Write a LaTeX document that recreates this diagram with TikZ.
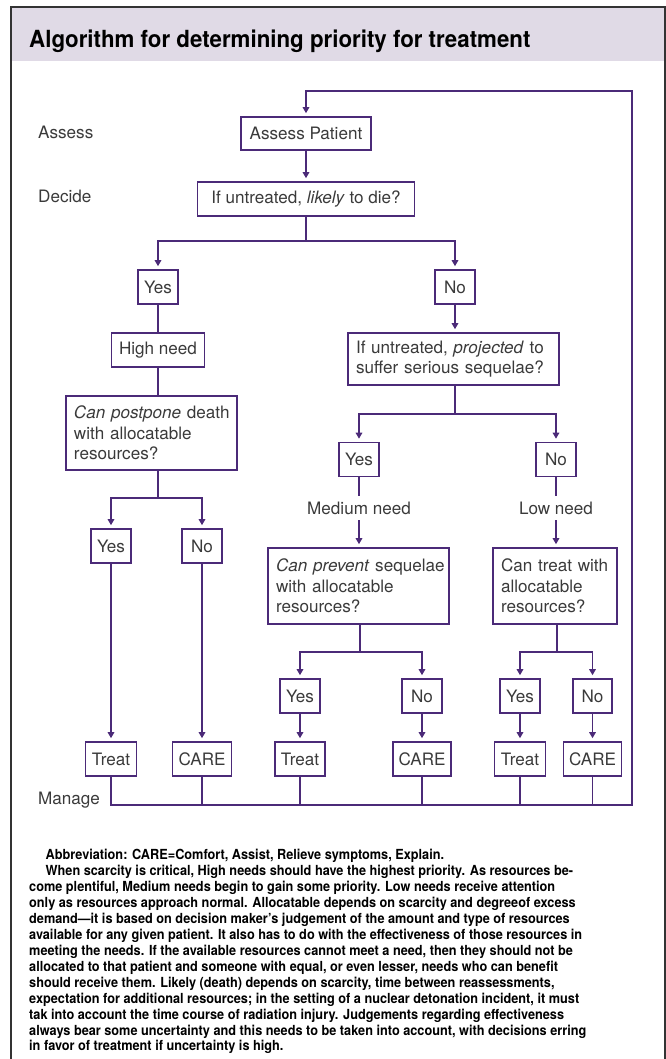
\documentclass[tikz,border=0pt]{standalone}
\usepackage{fontspec}
\setmainfont{TeX Gyre Heros}
\newfontfamily\condfont[FakeStretch=0.945]{TeX Gyre Heros}
\newfontfamily\notecond[FakeStretch=0.915]{TeX Gyre Heros}
\usetikzlibrary{arrows.meta}
\definecolor{grape}{HTML}{4B2A78}
\definecolor{ink}{HTML}{3A3A3A}
\definecolor{lilac}{HTML}{E0DAE6}
\definecolor{rim}{HTML}{333333}
\newcommand\diagfont{\fontsize{17.1bp}{20.5bp}\selectfont}
\newcommand\titlefont{\condfont\bfseries\fontsize{23.6bp}{26bp}\selectfont}
\newcommand\notefont{\notecond\bfseries\fontsize{13.9bp}{15.95bp}\selectfont}
\tikzset{
  box/.style={draw=grape, line width=1.6bp, text=ink, inner sep=0pt, font=\diagfont},
  tag/.style={box, minimum width=40bp, minimum height=34bp},
  qbox/.style={box, align=left, inner xsep=8bp},
  lbl/.style={text=ink, font=\diagfont, inner sep=5.5bp},
  link/.style={draw=grape, line width=1.6bp},
  arr/.style={link, -{Triangle[length=6bp,width=6.5bp]}, shorten >=3bp}
}
\begin{document}
\begin{tikzpicture}[x=1bp, y=-1bp]
\useasboundingbox (0,0) rectangle (666,1059);
\fill[lilac] (11,7) rectangle (665,61);
\draw[rim, line width=2bp] (11,1059) -- (11,7) -- (665,7) -- (665,1059);
\node[anchor=base west, inner sep=0pt, text=black, font=\titlefont] (title) at (29,47) {Algorithm for determining priority for treatment};

\node[lbl, anchor=base west, inner sep=0pt] (stepA) at (38,138) {Assess};
\node[lbl, anchor=base west, inner sep=0pt] (stepD) at (38,202) {Decide};
\node[lbl, anchor=base west, inner sep=0pt] (stepM) at (38,804) {Manage};

\node[box, minimum width=130bp, minimum height=33bp] (assess) at (306,133.5) {Assess Patient};
\node[box, minimum width=217bp, minimum height=34bp] (decide) at (306,199) {If untreated, \textit{likely} to die?};

\node[tag] (yesA) at (158,287) {Yes};
\node[tag] (noA) at (455,287) {No};
\node[box, minimum width=93bp, minimum height=34bp] (high) at (158,350) {High need};
\node[qbox, text width=155bp, minimum height=74bp] (postpone) at (151.5,433) {\mbox{\textit{Can postpone} death}\\\mbox{with allocatable}\\\mbox{resources?}};
\node[tag] (yesB) at (111,546) {Yes};
\node[tag] (noB) at (202,546) {No};
\node[box, minimum width=51bp, minimum height=34bp] (treatA) at (111,759) {Treat};
\node[box, minimum width=59bp, minimum height=34bp] (careA) at (202,759) {CARE};

\node[qbox, text width=195bp, minimum height=52bp] (proj) at (453.5,359) {\mbox{If untreated, \textit{projected} to}\\\mbox{suffer serious sequelae?}};
\node[tag] (yesC) at (359,459.5) {Yes};
\node[tag] (noC) at (556,459.5) {No};
\node[lbl] (medium) at (359,508) {Medium need};
\node[lbl] (low) at (556,508) {Low need};
\node[qbox, text width=165bp, minimum height=76bp] (prevent) at (358.5,586) {\mbox{\textit{Can prevent} sequelae}\\\mbox{with allocatable}\\\mbox{resources?}};
\node[qbox, text width=108bp, minimum height=76bp] (cantreat) at (555,586) {\mbox{Can treat with}\\\mbox{allocatable}\\\mbox{resources?}};
\node[tag] (yesD) at (300,696) {Yes};
\node[tag] (noD) at (422,696) {No};
\node[tag] (yesE) at (520,696) {Yes};
\node[tag, minimum width=39bp] (noE) at (592.5,696) {No};
\node[box, minimum width=50bp, minimum height=34bp] (treatB) at (300,759) {Treat};
\node[box, minimum width=58bp, minimum height=34bp] (careB) at (422,759) {CARE};
\node[box, minimum width=51bp, minimum height=34bp] (treatC) at (520,759) {Treat};
\node[box, minimum width=58bp, minimum height=34bp] (careC) at (592.5,759) {CARE};

\coordinate (forkA) at (306,241);
\coordinate (forkB) at (158,498);
\coordinate (forkC) at (455,414);
\coordinate (forkD) at (360,652);
\coordinate (forkE) at (557,652);
\coordinate (corner) at (632,805);
\coordinate (top) at (632,91);

\draw[arr] (assess) -- (decide);
\draw[arr] (decide) -- (forkA) -| (yesA);
\draw[arr] (forkA) -| (noA);
\draw[link] (yesA) -- (high);
\draw[link] (high) -- (high |- postpone.north);
\draw[arr] (postpone.south -| forkB) -- (forkB) -| (yesB);
\draw[arr] (forkB) -| (noB);
\draw[arr] (yesB) -- (treatA);
\draw[arr] (noB) -- (careA);
\draw[arr] (noA) -- (proj.north -| noA);
\draw[arr] (proj.south -| forkC) -- (forkC) -| (yesC);
\draw[arr] (forkC) -| (noC);
\draw[link] (yesC) -- (medium);
\draw[link] (noC) -- (low);
\draw[arr] (medium) -- (prevent.north -| medium);
\draw[arr] (low) -- (cantreat.north -| low);
\draw[arr] (prevent.south -| forkD) -- (forkD) -| (yesD);
\draw[arr] (forkD) -| (noD);
\draw[arr] (cantreat.south -| forkE) -- (forkE) -| (yesE);
\draw[arr] (forkE) -| (noE);
\draw[arr] (yesD) -- (treatB);
\draw[arr] (noD) -- (careB);
\draw[arr] (yesE) -- (treatC);
\draw[arr] (noE) -- (careC);
\draw[arr] (treatA) |- (corner) -- (top) -| (assess);
\foreach \n in {careA,treatB,careB,treatC,careC}
  \draw[link] (\n) -- (\n |- corner);

\node[anchor=north west, inner sep=0pt, align=left, text=black, font=\notefont] (note) at (29,849) {\hspace*{16.5bp}Abbreviation: CARE=Comfort, Assist, Relieve symptoms, Explain.\\
\hspace*{16.5bp}When scarcity is critical, High needs should have the highest priority. As resources be-\\
come plentiful, Medium needs begin to gain some priority. Low needs receive attention\\
only as resources approach normal. Allocatable depends on scarcity and degreeof excess\\
demand—it is based on decision maker’s judgement of the amount and type of resources\\
available for any given patient. It also has to do with the effectiveness of those resources in\\
meeting the needs. If the available resources cannot meet a need, then they should not be\\
allocated to that patient and someone with equal, or even lesser, needs who can benefit\\
should receive them. Likely (death) depends on scarcity, time between reassessments,\\
expectation for additional resources; in the setting of a nuclear detonation incident, it must\\
tak into account the time course of radiation injury. Judgements regarding effectiveness\\
always bear some uncertainty and this needs to be taken into account, with decisions erring\\
in favor of treatment if uncertainty is high.};
\end{tikzpicture}
\end{document}
